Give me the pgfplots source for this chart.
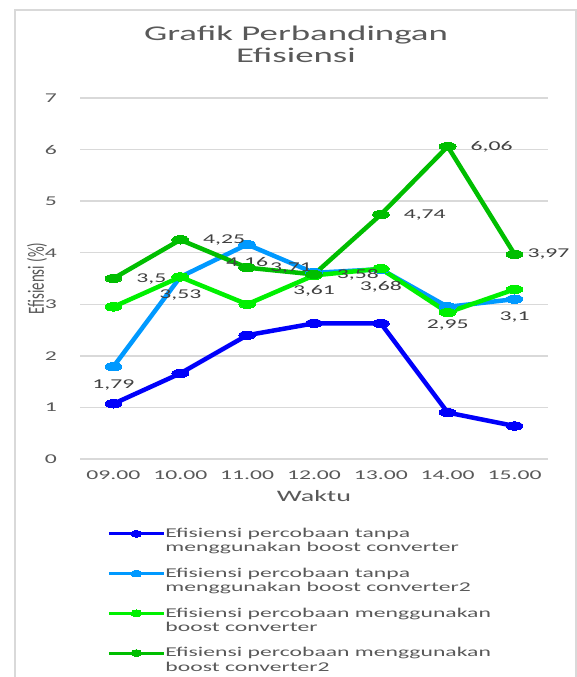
\documentclass[border=0pt]{standalone}
\usepackage{fontspec}
\setmainfont{Carlito}[FakeStretch=1.76]
\newfontfamily\plainfont{Carlito}
\usepackage{graphicx}
\usepackage{pgfplots}
\usepackage{pgfplotstable}
\pgfplotsset{compat=1.18}
\definecolor{cDB}{RGB}{0,0,250}
\definecolor{cLB}{RGB}{0,153,255}
\definecolor{cLG}{RGB}{0,240,0}
\definecolor{cDG}{RGB}{0,190,0}
\definecolor{txt}{RGB}{89,89,89}
\definecolor{lbl}{RGB}{64,64,64}
\definecolor{gridc}{RGB}{217,217,217}
\pgfplotstableread{
x y
0 1.07
1 1.66
2 2.40
3 2.63
4 2.63
5 0.90
6 0.64
}\tblA
\pgfplotstableread{
x y
0 1.79
1 3.53
2 4.16
3 3.61
4 3.68
5 2.95
6 3.1
}\tblB
\pgfplotstableread{
x y
0 2.95
1 3.53
2 3.00
3 3.56
4 3.69
5 2.84
6 3.29
}\tblC
\pgfplotstableread{
x y dx
0 3.5 23
1 4.25 23
2 3.71 23
3 3.58 23
4 4.74 23
5 6.06 23
6 3.97 13
}\tblD
\begin{document}
\begin{tikzpicture}
\useasboundingbox (0,0) rectangle (577bp,677bp);
\draw[gridc, line width=1.5bp] (15bp,-20bp) rectangle (576bp,667bp);
\node[anchor=base, text=txt, inner sep=0pt, font=\fontsize{21}{22}\selectfont] at (296bp,636.3bp) {Grafik Perbandingan};
\node[anchor=base, text=txt, inner sep=0pt, font=\fontsize{21}{22}\selectfont] at (296bp,614bp) {Efisiensi};
\begin{axis}[
  at={(80bp,218bp)}, anchor=south west,
  scale only axis, width=468bp, height=361bp,
  xmin=-0.5, xmax=6.5, ymin=0, ymax=7,
  xtick={0,...,6},
  xticklabels={09.00,10.00,11.00,12.00,13.00,14.00,15.00},
  ytick={0,...,7},
  axis line style={draw=none},
  major tick length=0pt,
  ymajorgrids,
  major grid style={gridc, line width=1.3bp},
  tick label style={font=\fontsize{13.5}{14}\selectfont, text=txt, inner sep=0pt},
  yticklabel style={anchor=east, xshift=-23bp},
  xticklabel style={anchor=base, yshift=-21bp},
  every axis y label/.style={at={(axis description cs:-0.092,0.5)}, rotate=90, anchor=center, inner sep=0pt},
  every axis x label/.style={at={(axis description cs:0.5,-0.119)}, anchor=base, inner sep=0pt},
  ylabel={\plainfont\fontsize{15}{16}\selectfont\color{txt}\scalebox{1}[1.55]{Efisiensi (\%)}},
  xlabel={\fontsize{16}{17}\selectfont\color{txt}Waktu},
  legend style={at={(axis description cs:0.0577,-0.191)}, anchor=north west, draw=none, fill=none, inner sep=0pt, row sep=14.5bp,
    nodes={inner sep=0pt, align=left, text=txt, font=\fontsize{13.5}{14.5}\selectfont},
    /tikz/every even column/.append style={column sep=5bp}},
  legend cell align=left,
  legend image code/.code={\draw[mark repeat=2,mark phase=2,#1, line width=3.2bp, mark size=3.4bp, mark options={xscale=1.6, line width=0pt}] plot coordinates {(0bp,7bp)(27.5bp,7bp)(55bp,7bp)};},
  /pgf/number format/use comma,
  /pgf/number format/assume math mode=true,
  every axis plot/.append style={line width=4.5bp, mark=*, mark size=4.2bp, mark options={xscale=2, line width=0pt}},
]
\addplot[cDB] table[x=x,y=y] {\tblA};
\addlegendentry{Efisiensi percobaan tanpa\\menggunakan boost converter}
\addplot[cLB, nodes near coords, every node near coord/.style={anchor=center, yshift=-18bp, inner sep=0pt, text=lbl, font=\fontsize{13.5}{14}\selectfont}]
  table[x=x,y=y] {\tblB};
\addlegendentry{Efisiensi percobaan tanpa\\menggunakan boost converter2}
\addplot[cLG] table[x=x,y=y] {\tblC};
\addlegendentry{Efisiensi percobaan menggunakan\\boost converter}
\addplot[cDG, visualization depends on={\thisrow{dx} \as \dx}, nodes near coords,
  every node near coord/.style={anchor=west, xshift=\dx pt, inner sep=0pt, text=lbl, font=\fontsize{13.5}{14}\selectfont}]
  table[x=x,y=y] {\tblD};
\addlegendentry{Efisiensi percobaan menggunakan\\boost converter2}
\end{axis}
\end{tikzpicture}
\end{document}
